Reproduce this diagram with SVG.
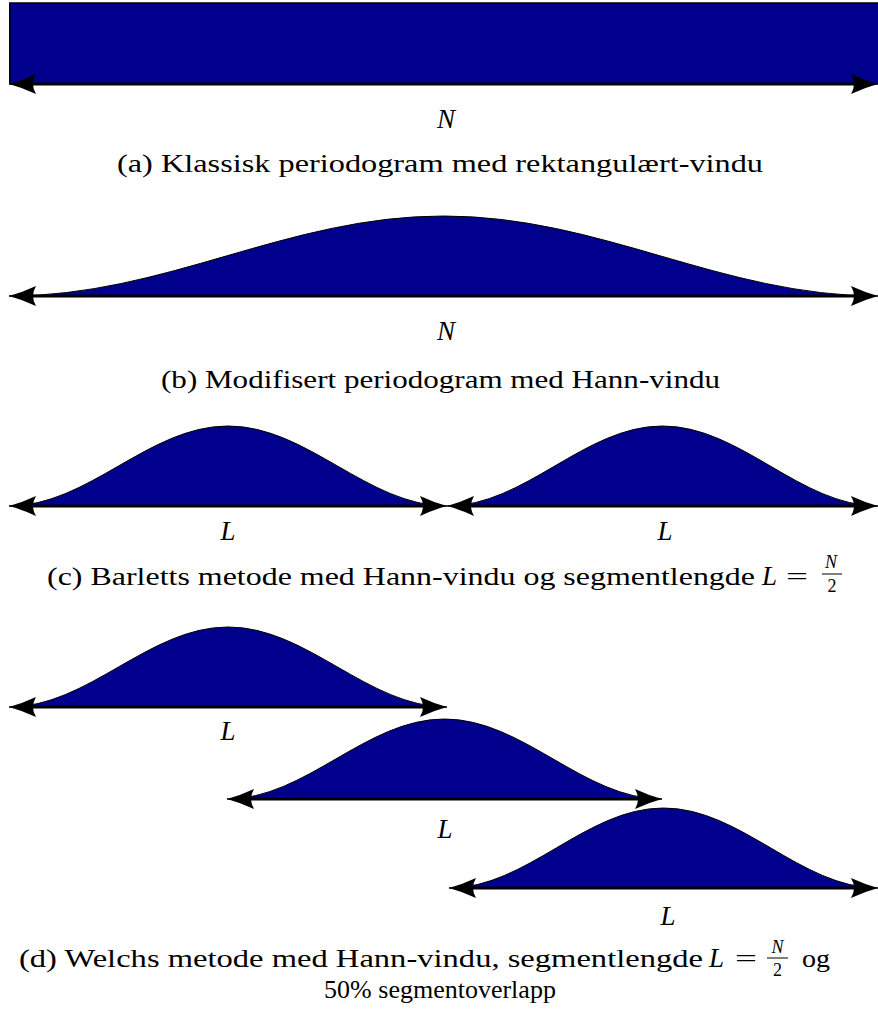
<svg xmlns="http://www.w3.org/2000/svg" width="878" height="1009" viewBox="0 0 878 1009">
<style>
.win{fill:#00008C;stroke:#000;stroke-width:1}
.axis{stroke:#000;stroke-width:3;fill:none;marker-start:url(#ah);marker-end:url(#ah)}
.cap{font-family:"Liberation Serif","Times New Roman",serif;font-size:26px;fill:#000}
.var{font-family:"Liberation Serif","Times New Roman",serif;font-size:27px;font-style:italic;fill:#000}
.small{font-family:"Liberation Serif","Times New Roman",serif;font-size:18px;fill:#000}
</style>
<defs>
<marker id="ah" markerUnits="userSpaceOnUse" markerWidth="40" markerHeight="30" viewBox="-30 -15 40 30" refX="-8" refY="0" orient="auto-start-reverse" overflow="visible">
<path d="M0,0 Q-13,-3.5 -27,-10 Q-21,0 -27,10 Q-13,3.5 0,0 Z" fill="#000"/>
</marker>
</defs>
<rect x="0" y="0" width="878" height="1009" fill="#fff"/>
<g id="panel-a">
<rect class="win" x="9.75" y="3" width="880" height="81" style="stroke-width:1.5"/>
<text class="var" x="446" y="128" text-anchor="middle">N</text>
<text class="cap" x="117" y="172" textLength="646" lengthAdjust="spacingAndGlyphs">(a) Klassisk periodogram med rektangulært-vindu</text>
</g>
<g id="panel-b">
<path class="win" d="M9,296 C166.9,296 285.6,216 443.5,216 C601.4,216 720.1,296 878,296 Z"/>
<text class="var" x="446" y="340" text-anchor="middle">N</text>
<text class="cap" x="161" y="388" textLength="559" lengthAdjust="spacingAndGlyphs">(b) Modifisert periodogram med Hann-vindu</text>
</g>
<g id="panel-c">
<path class="win" d="M9,506 C88.6,506 148.4,426 228,426 C307.6,426 367.4,506 447,506 Z"/>
<path class="win" d="M447,506 C525.3,506 584.2,426 662.5,426 C740.8,426 799.7,506 878,506 Z"/>
<text class="var" x="228" y="540" text-anchor="middle">L</text>
<text class="var" x="665" y="540" text-anchor="middle">L</text>
<text class="cap" x="47" y="585" textLength="708" lengthAdjust="spacingAndGlyphs">(c) Barletts metode med Hann-vindu og segmentlengde</text>
<text class="var" x="762" y="585">L</text>
<text class="cap" x="786" y="585" textLength="22" lengthAdjust="spacingAndGlyphs">=</text>
<text class="small" x="831" y="568" text-anchor="middle" font-style="italic">N</text>
<line x1="822" y1="574" x2="842" y2="574" stroke="#000" stroke-width="1"/>
<text class="small" x="832" y="592" text-anchor="middle">2</text>
</g>
<g id="panel-d">
<path class="win" d="M9,707 C88.6,707 148.4,627 228,627 C307.6,627 367.4,707 447,707 Z"/>
<path class="win" d="M227,799 C306,799 365.5,719 444.5,719 C523.5,719 583,799 662,799 Z"/>
<path class="win" d="M449,888 C526.9,888 585.5,808 663.5,808 C741.5,808 800.1,888 878,888 Z"/>
<text class="var" x="228" y="740" text-anchor="middle">L</text>
<text class="var" x="445" y="838" text-anchor="middle">L</text>
<text class="var" x="668" y="925" text-anchor="middle">L</text>
<text class="cap" x="19" y="967" textLength="684" lengthAdjust="spacingAndGlyphs">(d) Welchs metode med Hann-vindu, segmentlengde</text>
<text class="var" x="709" y="967">L</text>
<text class="cap" x="735" y="967" textLength="22" lengthAdjust="spacingAndGlyphs">=</text>
<text class="small" x="777.5" y="953" text-anchor="middle" font-style="italic">N</text>
<line x1="767" y1="958" x2="788" y2="958" stroke="#000" stroke-width="1"/>
<text class="small" x="777.5" y="976" text-anchor="middle">2</text>
<text class="cap" x="802" y="967" textLength="28" lengthAdjust="spacingAndGlyphs">og</text>
<text class="cap" x="440" y="998" text-anchor="middle">50% segmentoverlapp</text>
</g>
<g id="connectors">
<line class="axis" x1="17" y1="84" x2="870" y2="84"/>
<line class="axis" x1="17" y1="296" x2="870" y2="296"/>
<line class="axis" x1="17" y1="506" x2="439" y2="506"/>
<line class="axis" x1="455" y1="506" x2="870" y2="506"/>
<line class="axis" x1="17" y1="707" x2="439" y2="707"/>
<line class="axis" x1="235" y1="799" x2="654" y2="799"/>
<line class="axis" x1="457" y1="888" x2="870" y2="888"/>
</g>
</svg>
